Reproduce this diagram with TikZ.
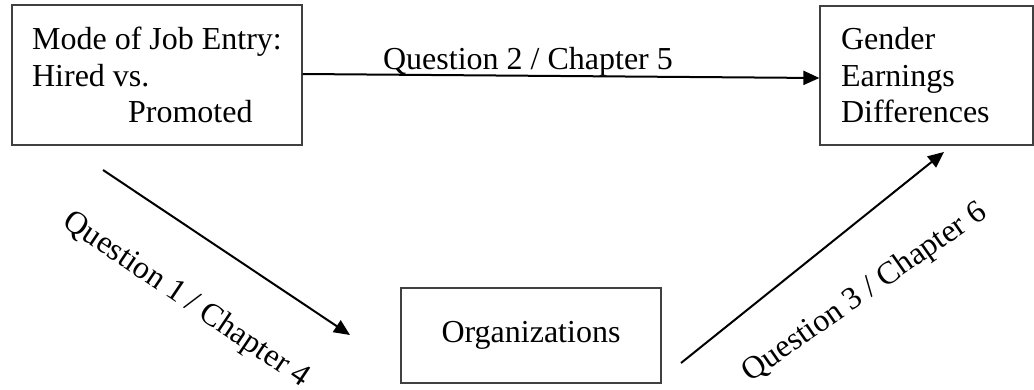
\documentclass[tikz,border=0pt]{standalone}
\usepackage{fontspec}
\setmainfont{Liberation Serif}
\usetikzlibrary{arrows.meta}
\begin{document}
\begin{tikzpicture}[x=1pt,y=-1pt,
  box/.style={draw=black!75, line width=1.2pt, rectangle, inner ysep=0pt,
    font=\fontsize{32}{36.5}\selectfont},
  arr/.style={line width=2pt, -{Triangle[length=16pt,width=14pt]}},
  lbl/.style={font=\fontsize{32}{36.5}\selectfont, inner sep=0pt}]
\useasboundingbox (0,0) rectangle (1034,389);
\node[box, minimum width=290pt, minimum height=140pt, inner xsep=19pt,
      align=left] (m) at (157,75)
  {Mode of Job Entry:\\Hired vs.\\\hspace*{96pt}Promoted};
\node[box, minimum width=213pt, minimum height=139pt, inner xsep=21pt,
      text width=171pt, align=left] (g) at (926.5,75.5)
  {Gender\\Earnings\\Differences};
\node[box, minimum width=260pt, minimum height=95pt] (o) at (531,335.5)
  {Organizations};
\coordinate (a1s) at (103,170);
\coordinate (a1e) at (350,335);
\coordinate (a3s) at (681,363);
\coordinate (a3e) at (944,152);
\draw[arr] ([yshift=1pt]m.east) -- ([yshift=-2.5pt]g.west);
\draw[arr] (a1s) -- (a1e);
\draw[arr] (a3s) -- (a3e);
\node[lbl, anchor=base] (l2) at (528,69) {Question 2 / Chapter 5};
\node[lbl, rotate=-34] (l1) at (186,300) {Question 1 / Chapter 4};
\node[lbl, rotate=35] (l3) at (865,293) {Question 3 / Chapter 6};
\end{tikzpicture}
\end{document}
